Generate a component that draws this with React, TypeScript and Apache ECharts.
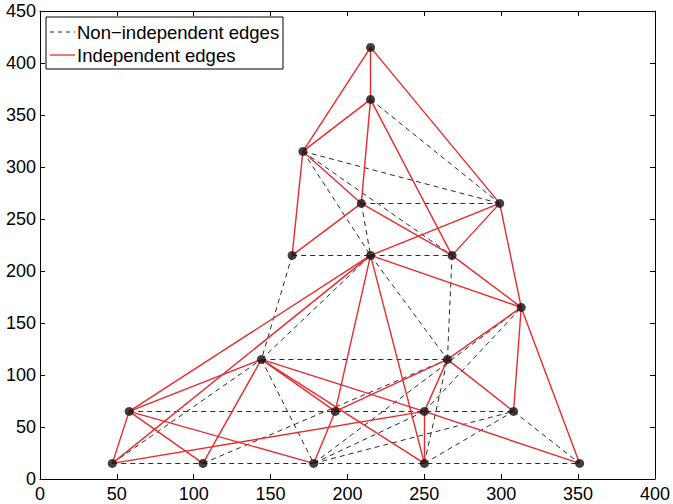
import React, { useEffect, useRef } from "react";
import * as echarts from "echarts";

const nodeNames = ["A", "B", "C", "D", "E", "F", "G", "H", "I", "J", "K", "L", "M", "N", "O", "P", "Q", "R", "S", "T"];
const nodeX = [215, 215, 171, 209, 299, 164, 215, 268, 313, 144, 265, 58, 192, 250, 308, 47, 106, 178, 250, 351];
const nodeY = [415, 365, 315, 265, 265, 215, 215, 215, 165, 115, 115, 65, 65, 65, 65, 15, 15, 15, 15, 15];

const independentEdges = [
  ["A", "B"], ["A", "C"], ["A", "E"], ["B", "C"], ["B", "D"], ["B", "H"],
  ["C", "F"], ["C", "D"], ["D", "F"], ["D", "H"], ["E", "G"], ["E", "H"],
  ["E", "I"], ["G", "I"], ["H", "I"], ["G", "L"], ["G", "P"], ["G", "M"],
  ["G", "S"], ["I", "K"], ["I", "O"], ["I", "T"], ["K", "O"], ["K", "N"],
  ["K", "M"], ["J", "L"], ["J", "Q"], ["L", "P"], ["L", "Q"], ["L", "R"],
  ["P", "N"], ["J", "M"], ["J", "S"], ["J", "N"], ["N", "T"], ["M", "R"],
  ["N", "S"],
];

const nonIndependentEdges = [
  ["B", "E"], ["C", "E"], ["C", "H"], ["C", "G"], ["D", "E"], ["D", "G"],
  ["F", "G"], ["G", "H"], ["F", "J"], ["G", "K"], ["H", "K"], ["J", "K"],
  ["L", "O"], ["P", "T"], ["J", "R"], ["P", "J"], ["J", "G"], ["Q", "K"],
  ["R", "N"], ["R", "O"], ["R", "I"], ["S", "K"], ["S", "O"], ["O", "T"],
  ["N", "I"],
];

const xTicks = [0, 50, 100, 150, 200, 250, 300, 350, 400];
const yTicks = [0, 50, 100, 150, 200, 250, 300, 350, 400, 450];

const legendLabels = ["Non\u2212independent edges", "Independent edges"];

const RED = "#e62c2e";
const DASH = "#2a2a2a";
const FONT = "Liberation Sans, Arial, Helvetica, sans-serif";

function coordOf(name: string): [number, number] {
  const i = nodeNames.indexOf(name);
  return [nodeX[i], nodeY[i]];
}

export default function App() {
  const ref = useRef<HTMLDivElement>(null);
  useEffect(() => {
    if (!ref.current) return;
    const chart = echarts.init(ref.current, undefined, { renderer: "svg" });
    const axisCommon = {
      type: "value" as const,
      axisLine: { show: true, onZero: false, lineStyle: { color: "#000", width: 1 } },
      axisTick: { show: true, inside: true, length: 5, lineStyle: { color: "#000" } },
      splitLine: { show: false },
    };
    chart.setOption({
      animation: false,
      grid: { left: 40, right: 16, top: 11, bottom: 25, containLabel: false },
      xAxis: [
        {
          ...axisCommon,
          position: "bottom",
          min: xTicks[0],
          max: xTicks[xTicks.length - 1],
          interval: 50,
          axisLabel: { color: "#000", fontSize: 18, fontFamily: FONT, margin: 6 },
        },
        {
          ...axisCommon,
          position: "top",
          min: xTicks[0],
          max: xTicks[xTicks.length - 1],
          interval: 50,
          axisLabel: { show: false },
        },
      ],
      yAxis: [
        {
          ...axisCommon,
          position: "left",
          min: yTicks[0],
          max: yTicks[yTicks.length - 1],
          interval: 50,
          axisLabel: { color: "#000", fontSize: 18, fontFamily: FONT, margin: 4 },
        },
        {
          ...axisCommon,
          position: "right",
          min: yTicks[0],
          max: yTicks[yTicks.length - 1],
          interval: 50,
          axisLabel: { show: false },
        },
      ],
      series: [
        {
          name: legendLabels[0],
          type: "lines",
          coordinateSystem: "cartesian2d",
          xAxisIndex: 0,
          yAxisIndex: 0,
          z: 2,
          lineStyle: { color: DASH, width: 1, type: [5, 4], opacity: 1 },
          data: nonIndependentEdges.map(([a, b]) => ({ coords: [coordOf(a), coordOf(b)] })),
        },
        {
          name: legendLabels[1],
          type: "lines",
          coordinateSystem: "cartesian2d",
          xAxisIndex: 0,
          yAxisIndex: 0,
          z: 3,
          lineStyle: { color: RED, width: 1.4, type: "solid", opacity: 1 },
          data: independentEdges.map(([a, b]) => ({ coords: [coordOf(a), coordOf(b)] })),
        },
        {
          name: "nodes",
          type: "scatter",
          xAxisIndex: 0,
          yAxisIndex: 0,
          z: 4,
          symbol: "circle",
          symbolSize: 9,
          itemStyle: { color: "#111" },
          data: nodeX.map((x, i) => [x, nodeY[i]]),
        },
      ],
      graphic: [
        {
          type: "group",
          z: 100,
          children: [
            {
              type: "rect",
              shape: { x: 46, y: 17, width: 237, height: 52 },
              style: { fill: "#fff", stroke: "#000", lineWidth: 1 },
            },
            {
              type: "line",
              shape: { x1: 50, y1: 32, x2: 75, y2: 32 },
              style: { stroke: DASH, lineWidth: 1, lineDash: [4, 4] },
            },
            {
              type: "text",
              x: 77,
              y: 32,
              style: { text: legendLabels[0], fill: "#000", font: `18.5px ${FONT}`, verticalAlign: "middle" },
            },
            {
              type: "line",
              shape: { x1: 50, y1: 55, x2: 75, y2: 55 },
              style: { stroke: RED, lineWidth: 1.3 },
            },
            {
              type: "text",
              x: 77,
              y: 55,
              style: { text: legendLabels[1], fill: "#000", font: `18.5px ${FONT}`, verticalAlign: "middle" },
            },
          ],
        },
      ],
    });
    return () => chart.dispose();
  }, []);
  return (
    <div
      ref={ref}
      style={{ position: "fixed", left: 0, top: 0, width: 673, height: 504, background: "#fff" }}
    />
  );
}
